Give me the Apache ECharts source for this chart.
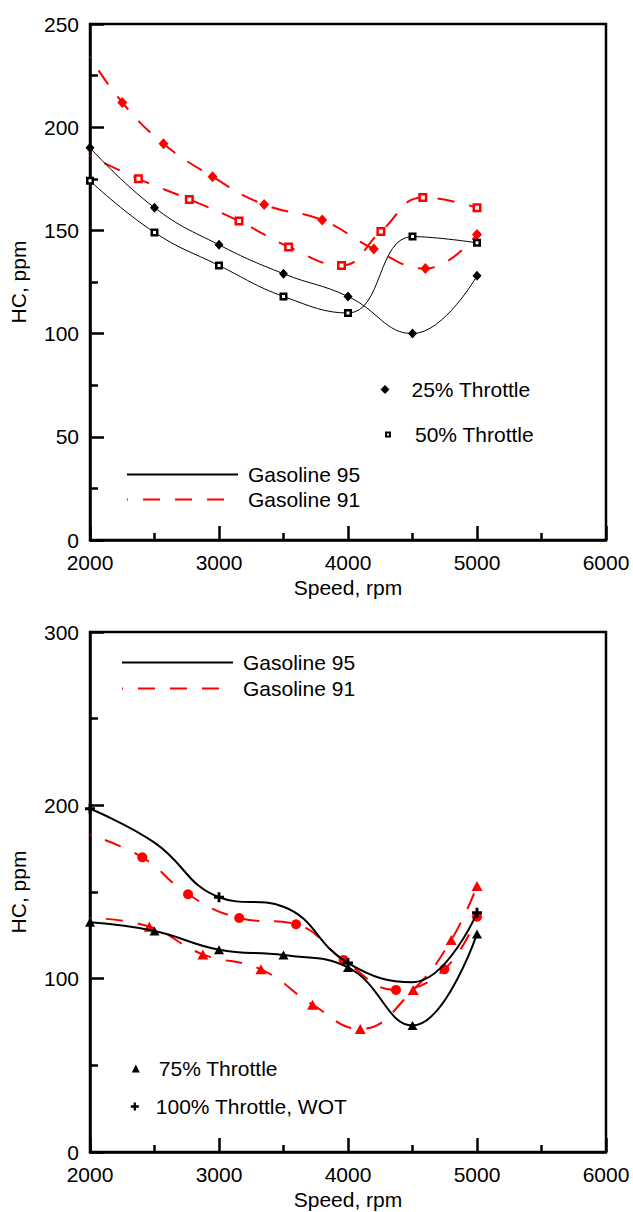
<!DOCTYPE html>
<html>
<head>
<meta charset="utf-8">
<script src="https://cdn.jsdelivr.net/npm/echarts@6/dist/echarts.min.js"></script>
<style>
html,body{margin:0;padding:0;background:#fff;}
#chart{width:633px;height:1212px;}
</style>
</head>
<body>
<div id="chart"></div>
<script>
// ---- data (speed rpm, HC ppm) ----
// Top panel
const g95_25 = [[2000,190],[2500,161],[3000,143],[3500,129],[4000,118],[4500,100],[5000,128]];
const g95_50 = [[2000,174],[2500,149],[3000,133],[3500,118],[4000,110],[4500,147],[5000,144]];
const g91_25 = [[2000,234],[2250,212],[2570,192],[2950,176],[3350,162.5],[3800,155],[4200,141],[4600,131.5],[5000,148]];
const g91_50 = [[2000,186],[2375,175],[2770,165],[3155,154.5],[3540,142],[3950,133],[4255,149.5],[4580,166],[5000,161]];
// Bottom panel
const g95_75  = [[2000,132.5],[2500,127.5],[3000,116.7],[3500,113.6],[4000,106.5],[4500,73],[5000,125.8]];
const g95_100 = [[2000,198],[2500,178.5],[3000,147],[3500,141.5],[4000,109],[4500,98],[5000,138]];
const g95_100_marked = [2000,3000,4000,5000];
const g91_75  = [[2000,135],[2460,130],[2875,114],[3325,105.4],[3725,85],[4095,71],[4505,93.5],[4800,122.3],[5000,153.5]];
const g91_100 = [[2000,183],[2405,170],[2760,148.7],[3157,135],[3597,131.4],[3966,110.8],[4372,93.5],[4747,105.4],[5000,135.7]];

const xName = 'Speed, rpm';
const yName = 'HC, ppm';
const lineNames = ['Gasoline 95','Gasoline 91'];
const topMarkNames = ['25% Throttle','50% Throttle'];
const botMarkNames = ['75% Throttle','100% Throttle, WOT'];

// ---- styling ----
const FONT = 'Liberation Sans';
const FS = 21;
const RED = '#ff0000';
const DASH = [17,15];
const PLUS = 'path://M3.2,0H5.8V3.2H9V5.8H5.8V9H3.2V5.8H0V3.2H3.2Z';

function hideFirst(arr){ return arr.map((p,i)=> i===0 ? {value:p, symbol:'none'} : p); }
function markOnly(arr, keep){ return arr.map(p=> keep.indexOf(p[0])>=0 ? p : {value:p, symbol:'none'}); }

function xAxis(gi){
  return {
    type:'value', gridIndex:gi, min:2000, max:6000, interval:1000,
    name:xName, nameLocation:'middle', nameGap:37,
    nameTextStyle:{fontFamily:FONT, fontSize:FS, color:'#000'},
    axisLine:{show:true, lineStyle:{color:'#000', width:2.5}},
    axisTick:{show:true, inside:true, length:14, lineStyle:{color:'#000', width:2.5}},
    minorTick:{show:true, splitNumber:2, length:7, lineStyle:{color:'#000', width:2.5}},
    splitLine:{show:false}, minorSplitLine:{show:false},
    axisLabel:{fontFamily:FONT, fontSize:FS, color:'#000', margin:12, formatter:v=>String(v)}
  };
}
function yAxis(gi, max, interval){
  return {
    type:'value', gridIndex:gi, min:0, max:max, interval:interval,
    name:yName, nameLocation:'middle', nameGap:61,
    nameTextStyle:{fontFamily:FONT, fontSize:FS, color:'#000'},
    axisLine:{show:true, lineStyle:{color:'#000', width:2.5}},
    axisTick:{show:true, inside:true, length:14, lineStyle:{color:'#000', width:2.5}},
    minorTick:{show:true, splitNumber:2, length:8, lineStyle:{color:'#000', width:2.5}},
    splitLine:{show:false}, minorSplitLine:{show:false},
    axisLabel:{fontFamily:FONT, fontSize:FS, color:'#000', margin:11, formatter:v=>String(v)}
  };
}

function lineLegend(name, left, top){
  return {data:[name], left:left, top:top, padding:0, itemWidth:111, itemHeight:14,
    selectedMode:false, itemStyle:{opacity:0},
    textStyle:{fontFamily:FONT, fontSize:FS, color:'#000', padding:[0,0,0,5]}};
}
function markLegend(item, left, top, w, pad){
  return {data:[item], left:left, top:top, padding:0, itemWidth:w, itemHeight:w,
    selectedMode:false,
    textStyle:{fontFamily:FONT, fontSize:FS, color:'#000', padding:[0,0,0,pad]}};
}

const solid = (w)=>({color:'#000', width:w, type:'solid'});
const dashed = (w)=>({color:RED, width:w, type:DASH, dashOffset:16});

const option = {
  animation:false,
  backgroundColor:'#fff',
  grid:[
    {left:89, right:27, top:24, bottom:672, show:true, borderColor:'#000', borderWidth:2.5},
    {left:89, right:27, top:632, bottom:60, show:true, borderColor:'#000', borderWidth:2.5}
  ],
  xAxis:[xAxis(0), xAxis(1)],
  yAxis:[yAxis(0,250,50), yAxis(1,300,100)],
  legend:[
    markLegend({name:topMarkNames[0], icon:'diamond'}, 380.5, 379, 9, 17),
    markLegend({name:topMarkNames[1], icon:'rect', itemStyle:{color:'#fff', borderColor:'#000', borderWidth:2}}, 385, 424, 4, 20),
    lineLegend(lineNames[0], 126, 464),
    lineLegend(lineNames[1], 126, 489),
    lineLegend(lineNames[0], 121, 652),
    lineLegend(lineNames[1], 121, 678),
    markLegend({name:botMarkNames[0], icon:'triangle'}, 131.8, 1058, 8, 14),
    markLegend({name:botMarkNames[1], icon:PLUS}, 130.8, 1096, 8, 12)
  ],
  series:[
    // legend-only series
    {name:lineNames[0], type:'line', data:[], symbol:'none', lineStyle:solid(1.5), color:'#000'},
    {name:lineNames[1], type:'line', data:[], symbol:'none', lineStyle:dashed(2), color:RED},
    {name:topMarkNames[0], type:'line', data:[], symbol:'diamond', color:'#000'},
    {name:topMarkNames[1], type:'line', data:[], symbol:'rect', color:'#000'},
    {name:botMarkNames[0], type:'line', data:[], symbol:'triangle', color:'#000'},
    {name:botMarkNames[1], type:'line', data:[], symbol:PLUS, color:'#000'},
    // top panel
    {name:'G95 25%', type:'line', xAxisIndex:0, yAxisIndex:0, data:g95_25, smooth:0.45,
     symbol:'diamond', symbolSize:[9,10], lineStyle:solid(1), itemStyle:{color:'#000'}, z:3},
    {name:'G95 50%', type:'line', xAxisIndex:0, yAxisIndex:0, data:g95_50, smooth:0.45,
     symbol:'rect', symbolSize:5.5, lineStyle:solid(1), itemStyle:{color:'#fff', borderColor:'#000', borderWidth:2.5}, z:3},
    {name:'G91 25%', type:'line', xAxisIndex:0, yAxisIndex:0, data:hideFirst(g91_25), smooth:0.45,
     symbol:'diamond', symbolSize:[10,11], lineStyle:dashed(2), itemStyle:{color:RED}, z:2},
    {name:'G91 50%', type:'line', xAxisIndex:0, yAxisIndex:0, data:hideFirst(g91_50), smooth:0.45,
     symbol:'rect', symbolSize:6.5, lineStyle:dashed(2), itemStyle:{color:'#fff', borderColor:RED, borderWidth:2.5}, z:2},
    // bottom panel
    {name:'G95 75%', type:'line', xAxisIndex:1, yAxisIndex:1, data:g95_75, smooth:0.45,
     symbol:'triangle', symbolSize:[10,9], lineStyle:solid(2), itemStyle:{color:'#000'}, z:3},
    {name:'G95 100%', type:'line', xAxisIndex:1, yAxisIndex:1, data:markOnly(g95_100, g95_100_marked), smooth:0.45,
     symbol:PLUS, symbolSize:10, lineStyle:solid(2), itemStyle:{color:'#000'}, z:3},
    {name:'G91 75%', type:'line', xAxisIndex:1, yAxisIndex:1, data:hideFirst(g91_75), smooth:0.45,
     symbol:'triangle', symbolSize:[11,10], lineStyle:dashed(2), itemStyle:{color:RED}, z:2},
    {name:'G91 100%', type:'line', xAxisIndex:1, yAxisIndex:1, data:hideFirst(g91_100), smooth:0.45,
     symbol:'circle', symbolSize:10, lineStyle:dashed(2), itemStyle:{color:RED}, z:2}
  ]
};

const chart = echarts.init(document.getElementById('chart'), null, {renderer:'svg'});
chart.setOption(option);
</script>
</body>
</html>
